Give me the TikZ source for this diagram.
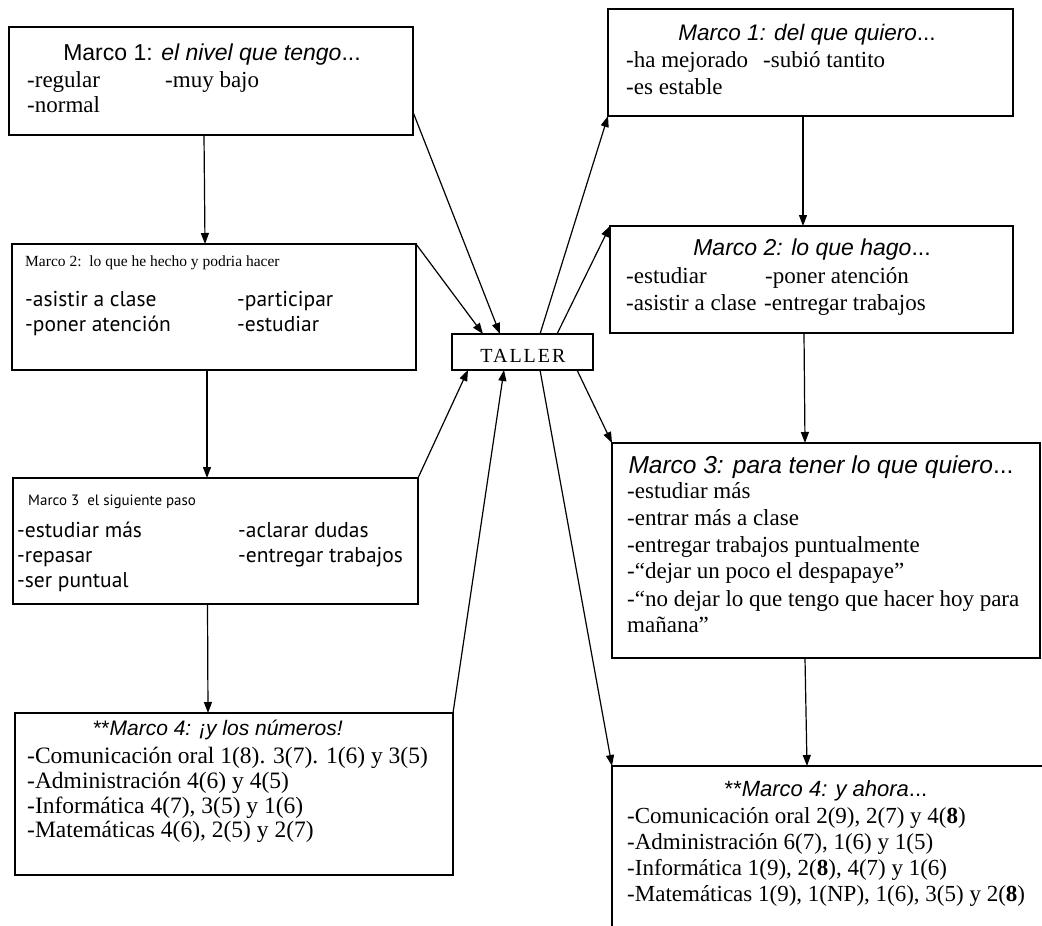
\documentclass[tikz,border=0pt]{standalone}
\usepackage{fontspec}
\setmainfont{Liberation Serif}
\newfontfamily\arialf{Liberation Sans}
\newfontfamily\gillf{PT Sans}
\newfontfamily\tallerf[LetterSpace=10]{Liberation Serif}
\usetikzlibrary{arrows.meta}
\begin{document}
\begin{tikzpicture}[x=1pt,y=-1pt,
  box/.style={draw=black, line width=1.1pt, inner sep=0pt, outer sep=0pt},
  txt/.style={anchor=base west, inner sep=0pt, font=\fontsize{23}{27}\selectfont},
  stxt/.style={anchor=base west, inner sep=0pt, font=\gillf\fontsize{21.5}{25}\selectfont},
  head/.style={anchor=base, inner sep=0pt},
  arr/.style={line width=1.2pt, -{Triangle[length=11pt,width=8pt]}}]
\path[use as bounding box] (0,0) rectangle (1042,926);
\clip (0,0) rectangle (1042,926);
\fill[white] (0,0) rectangle (1042,926);

% ---------- left column ----------
\node[box, minimum width=404pt, minimum height=108pt] (l1) at (211,81) {};
\node[head, font=\arialf\fontsize{23}{27}\selectfont] (l1h) at (212,60) {Marco 1: \textit{el nivel que tengo}...};
\node[txt] (l1a) at (27,87) {-regular};
\node[txt] (l1b) at (165,87) {-muy bajo};
\node[txt] (l1c) at (27,112) {-normal};

\node[box, minimum width=404pt, minimum height=126pt] (l2) at (214,307) {};
\node[anchor=base west, inner sep=0pt, font=\fontsize{15.5}{18}\selectfont] (l2h) at (25,266) {Marco 2:\ \ lo que he hecho y podria hacer};
\node[stxt] (l2a) at (25,306) {-asistir a clase};
\node[stxt] (l2b) at (237,306) {-participar};
\node[stxt] (l2c) at (25,331) {-poner atención};
\node[stxt] (l2d) at (237,331) {-estudiar};

\node[box, minimum width=405pt, minimum height=126pt] (l3) at (215.5,541) {};
\node[anchor=base west, inner sep=0pt, font=\gillf\fontsize{15}{18}\selectfont] (l3h) at (28,505) {Marco 3\ \ el siguiente paso};
\node[stxt] (l3a) at (17,537) {-estudiar más};
\node[stxt] (l3b) at (238,537) {-aclarar dudas};
\node[stxt] (l3c) at (17,562) {-repasar};
\node[stxt] (l3d) at (238,562) {-entregar trabajos};
\node[stxt] (l3e) at (17,587) {-ser puntual};

\node[box, minimum width=438pt, minimum height=162pt] (l4) at (234,794) {};
\node[head, font=\arialf\fontsize{21}{25}\selectfont] (l4h) at (218,735) {**\textit{Marco 4: ¡y los números!}};
\node[txt, font=\fontsize{23.5}{27}\selectfont] (l4a) at (27,763) {-Comunicación oral 1(8). 3(7). 1(6) y 3(5)};
\node[txt, font=\fontsize{23.5}{27}\selectfont] (l4b) at (27,788) {-Administración 4(6) y 4(5)};
\node[txt, font=\fontsize{23.5}{27}\selectfont] (l4c) at (27,813) {-Informática 4(7), 3(5) y 1(6)};
\node[txt, font=\fontsize{23.5}{27}\selectfont] (l4d) at (27,837) {-Matemáticas 4(6), 2(5) y 2(7)};

% ---------- centre ----------
\node[box, minimum width=141pt, minimum height=36pt] (tal) at (522.5,352) {};
\node[head, font=\tallerf\fontsize{20}{24}\selectfont] (talt) at (523,362) {TALLER};

% ---------- right column ----------
\node[box, minimum width=405pt, minimum height=107pt] (r1) at (810.5,62.5) {};
\node[head, font=\arialf\fontsize{22.5}{27}\selectfont] (r1h) at (807,40) {\textit{Marco 1: del que quiero}...};
\node[txt] (r1a) at (626,67) {-ha mejorado};
\node[txt] (r1b) at (763,67) {-subió tantito};
\node[txt] (r1c) at (626,94) {-es estable};

\node[box, minimum width=403pt, minimum height=107pt] (r2) at (811.5,279.5) {};
\node[head, font=\arialf\fontsize{23}{27}\selectfont] (r2h) at (812,255) {\textit{Marco 2: lo que hago}...};
\node[txt] (r2a) at (626,283) {-estudiar};
\node[txt] (r2b) at (765,283) {-poner atención};
\node[txt] (r2c) at (626,310) {-asistir a clase};
\node[txt] (r2d) at (764,310) {-entregar trabajos};

\node[box, minimum width=428pt, minimum height=215pt] (r3) at (826,550.5) {};
\node[head, font=\arialf\fontsize{24.5}{29}\selectfont] (r3h) at (821,473) {\textit{Marco 3: para tener lo que quiero}...};
\node[txt] (r3a) at (627,498) {-estudiar más};
\node[txt] (r3b) at (627,525) {-entrar más a clase};
\node[txt] (r3c) at (627,552) {-entregar trabajos puntualmente};
\node[txt] (r3d) at (627,578) {-“dejar un poco el despapaye”};
\node[txt] (r3e) at (627,606) {-“no dejar lo que tengo que hacer hoy para};
\node[txt] (r3f) at (627,632) {mañana”};

\node[box, minimum width=440pt, minimum height=176pt] (r4) at (832,854) {};
\node[head, font=\arialf\fontsize{22}{26}\selectfont] (r4h) at (826,796) {**\textit{Marco 4: y ahora}...};
\node[txt] (r4a) at (627,823) {-Comunicación oral 2(9), 2(7) y 4(\textbf{8})};
\node[txt] (r4b) at (627,849) {-Administración 6(7), 1(6) y 1(5)};
\node[txt] (r4c) at (627,875) {-Informática 1(9), 2(\textbf{8}), 4(7) y 1(6)};
\node[txt] (r4d) at (627,901) {-Matemáticas 1(9), 1(NP), 1(6), 3(5) y 2(\textbf{8})};

% ---------- connectors ----------
\draw[arr] ([xshift=-7pt]l1.south) -- ([xshift=-9pt]l2.north);
\draw[arr] ([xshift=-7pt]l2.south) -- ([xshift=-8.5pt]l3.north);
\draw[arr] ([xshift=-8pt]l3.south) -- ([xshift=-26pt]l4.north);

\draw[arr] ([yshift=-31pt]l1.east) -- ([xshift=-22.5pt]tal.north);
\draw[arr] (l2.north east) -- ([xshift=-39.5pt]tal.north);
\draw[arr] (l3.north east) -- ([xshift=-54.5pt]tal.south);
\draw[arr] (l4.north east) -- ([xshift=-18.5pt]tal.south);

\draw[arr] ([xshift=17.5pt]tal.north) -- (r1.south west);
\draw[arr] ([xshift=34.5pt]tal.north) -- (r2.north west);
\draw[arr] ([xshift=54.5pt]tal.south) -- (r3.north west);
\draw[arr] ([xshift=17.5pt]tal.south) -- (r4.north west);

\draw[arr] ([xshift=-7.5pt]r1.south) -- ([xshift=-8.5pt]r2.north);
\draw[arr] ([xshift=-7.5pt]r2.south) -- ([xshift=-21pt]r3.north);
\draw[arr] ([xshift=-21pt]r3.south) -- ([xshift=-25pt]r4.north);
\end{tikzpicture}
\end{document}
